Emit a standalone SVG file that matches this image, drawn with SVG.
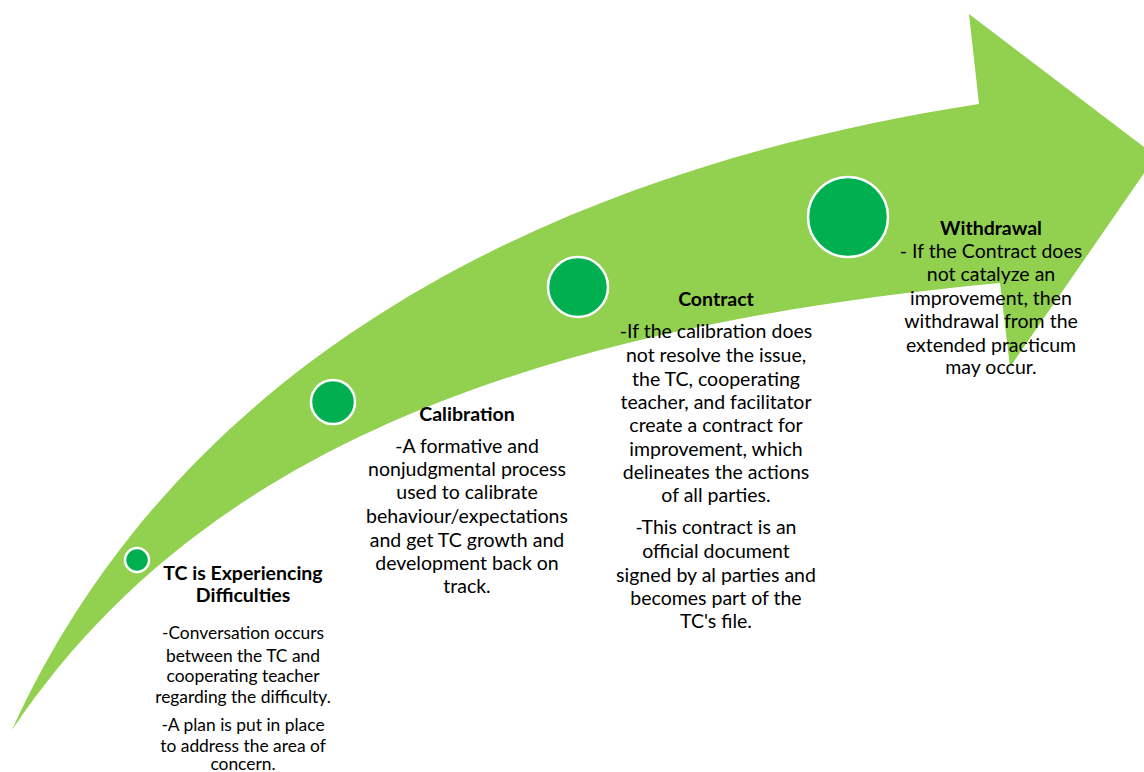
<svg xmlns="http://www.w3.org/2000/svg" width="1144" height="772" viewBox="0 0 1144 772">
<style>
.arrow{fill:#92D050;stroke:none}
.dot{fill:#00B050;stroke:#FFFFFF;stroke-width:2.5}
text{font-family:Lato,"Open Sans","Liberation Sans",sans-serif;fill:#000;text-anchor:middle}
.h{font-weight:bold;font-size:19.5px}
.b{font-size:19.5px}
.s{font-size:17.4px}
</style>
<rect width="1144" height="772" fill="#FFFFFF"/>
<g id="connectors">
<path class="arrow" d="M12,730 C180,360 550,170 979,104 L969,14 L1156,156 L1010,367 L1000,283 C500,330 190,465 12,730 Z"/>
</g>
<g id="node-difficulties">
<circle class="dot" cx="137" cy="560" r="12"/>
<text class="h" x="243" y="580">TC is Experiencing</text>
<text class="h" x="243" y="602">Difficulties</text>
<text class="s" x="243" y="639">-Conversation occurs</text>
<text class="s" x="243" y="662">between the TC and</text>
<text class="s" x="243" y="682">cooperating teacher</text>
<text class="s" x="243" y="703">regarding the difficulty.</text>
<text class="s" x="243" y="731">-A plan is put in place</text>
<text class="s" x="243" y="752">to address the area of</text>
<text class="s" x="243" y="770">concern.</text>
</g>
<g id="node-calibration">
<circle class="dot" cx="333" cy="402" r="22"/>
<text class="h" x="467" y="421">Calibration</text>
<text class="b" x="467" y="453">-A formative and</text>
<text class="b" x="467" y="476">nonjudgmental process</text>
<text class="b" x="467" y="499">used to calibrate</text>
<text class="b" x="467" y="523">behaviour/expectations</text>
<text class="b" x="467" y="547">and get TC growth and</text>
<text class="b" x="467" y="570">development back on</text>
<text class="b" x="467" y="593">track.</text>
</g>
<g id="node-contract">
<circle class="dot" cx="578" cy="287" r="30"/>
<text class="h" x="716" y="306">Contract</text>
<text class="b" x="716" y="338">-If the calibration does</text>
<text class="b" x="716" y="362">not resolve the issue,</text>
<text class="b" x="716" y="386">the TC, cooperating</text>
<text class="b" x="716" y="409">teacher, and facilitator</text>
<text class="b" x="716" y="432">create a contract for</text>
<text class="b" x="716" y="456">improvement, which</text>
<text class="b" x="716" y="479">delineates the actions</text>
<text class="b" x="716" y="502">of all parties.</text>
<text class="b" x="716" y="534">-This contract is an</text>
<text class="b" x="716" y="558">official document</text>
<text class="b" x="716" y="582">signed by al parties and</text>
<text class="b" x="716" y="605">becomes part of the</text>
<text class="b" x="716" y="628">TC's file.</text>
</g>
<g id="node-withdrawal">
<circle class="dot" cx="848" cy="217" r="40"/>
<text class="h" x="991" y="235">Withdrawal</text>
<text class="b" x="991" y="258">- If the Contract does</text>
<text class="b" x="991" y="281">not catalyze an</text>
<text class="b" x="991" y="305">improvement, then</text>
<text class="b" x="991" y="328">withdrawal from the</text>
<text class="b" x="991" y="352">extended practicum</text>
<text class="b" x="991" y="374">may occur.</text>
</g>
</svg>
